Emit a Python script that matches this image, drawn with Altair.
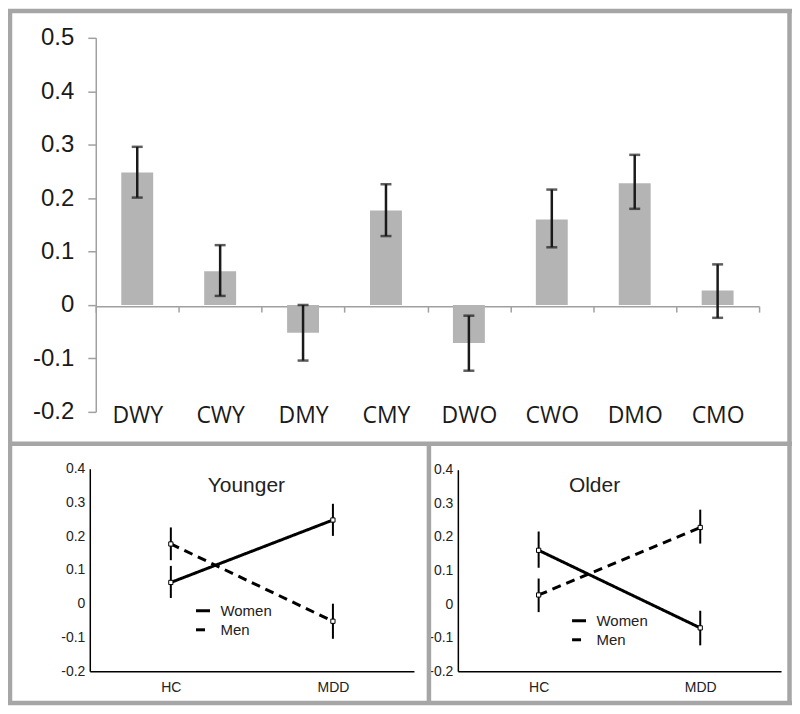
import altair as alt
import pandas as pd

# ---- data ----
groups = ["DWY", "CWY", "DMY", "CMY", "DWO", "CWO", "DMO", "CMO"]
means = [0.248, 0.063, -0.052, 0.177, -0.071, 0.160, 0.228, 0.027]
err_lo = [0.201, 0.017, -0.104, 0.129, -0.123, 0.108, 0.180, -0.024]
err_hi = [0.296, 0.112, 0.000, 0.226, -0.020, 0.216, 0.281, 0.076]

y_ticks_top = [-0.2, -0.1, 0, 0.1, 0.2, 0.3, 0.4, 0.5]
y_ticks_bottom = [-0.2, -0.1, 0, 0.1, 0.2, 0.3, 0.4]
conditions = ["HC", "MDD"]
sexes = ["Women", "Men"]
panel_titles = ["Younger", "Older"]

top_df = pd.DataFrame({"group": groups, "mean": means, "lo": err_lo, "hi": err_hi})

rows = []
for g, m, lo, hi in zip(groups, means, err_lo, err_hi):
    rows.append({
        "cond": "MDD" if g[0] == "D" else "HC",
        "sex": "Women" if g[1] == "W" else "Men",
        "age": "Younger" if g[2] == "Y" else "Older",
        "mean": m, "lo": lo, "hi": hi,
    })
bot_df = pd.DataFrame(rows)

W, H = 786, 698
FRAME = "#a6a6a6"
AXGRAY = "#a0a0a0"
INK = "#1a1a1a"
label_expr = "'' + datum.value"

layers = []

# ---- frames ----
one = pd.DataFrame({"k": [0]})


def hline(y, x1, x2):
    return alt.Chart(one).mark_rule(color=FRAME, strokeWidth=4.5).encode(
        x=alt.value(x1), x2=alt.value(x2), y=alt.value(y))


def vline(x, y1, y2):
    return alt.Chart(one).mark_rule(color=FRAME, strokeWidth=4.5).encode(
        x=alt.value(x), y=alt.value(y1), y2=alt.value(y2))


layers += [hline(2, 0, W), hline(436, 0, W), hline(696, 0, W),
           vline(2, 0, H), vline(783.5, 0, H), vline(422, 436, H)]

# ---- top bar chart ----
xs_top = alt.Scale(type="band", domain=groups, range=[88, 753], paddingInner=0, paddingOuter=0)
ys_top = alt.Scale(domain=[-0.2, 0.5], range=[404, 29], nice=False, zero=False)

x_top = alt.X("group:N", sort=groups, scale=xs_top, axis=alt.Axis(
    orient="bottom", offset=-400, title=None, labelAngle=0, grid=False,
    domainColor=AXGRAY, domainWidth=1.5, tickColor=AXGRAY, tickWidth=1.5, tickSize=6,
    tickBand="extent", labelPadding=93, labelFont="Open Sans", labelFontSize=23,
    labelColor=INK))
y_top = alt.Y("mean:Q", scale=ys_top, axis=alt.Axis(
    orient="left", offset=-88, title=None, values=y_ticks_top, labelExpr=label_expr,
    grid=False, domainColor=AXGRAY, domainWidth=1.5, tickColor=AXGRAY, tickWidth=1.5,
    tickSize=8, labelPadding=14, labelFont="Liberation Sans", labelFontSize=24,
    labelColor=INK))
xn_top = alt.X("group:N", sort=groups, scale=xs_top, axis=None)

layers.append(alt.Chart(top_df).mark_bar(size=32, color="#b4b4b4").encode(x=x_top, y=y_top))
layers.append(alt.Chart(top_df).mark_rule(color=INK, strokeWidth=2.5).encode(
    x=xn_top, y=alt.Y("lo:Q", scale=ys_top, axis=None), y2="hi:Q"))
layers.append(alt.Chart(top_df).mark_tick(color=INK, thickness=2.5, size=11).encode(
    x=xn_top, y=alt.Y("lo:Q", scale=ys_top, axis=None)))
layers.append(alt.Chart(top_df).mark_tick(color=INK, thickness=2.5, size=11).encode(
    x=xn_top, y=alt.Y("hi:Q", scale=ys_top, axis=None)))


# ---- bottom line panels ----
def panel(age, xr, yr, y_off, x_off, leg_x, leg_y, title_x):
    d = bot_df[bot_df.age == age]
    xs = alt.Scale(type="point", domain=conditions, range=xr, padding=0.5)
    ys = alt.Scale(domain=[-0.2, 0.4], range=yr, nice=False, zero=False)
    x = alt.X("cond:N", sort=conditions, scale=xs, axis=alt.Axis(
        orient="bottom", offset=x_off, title=None, labelAngle=0, grid=False,
        domainColor="black", domainWidth=1.5, ticks=False, labelPadding=9,
        labelFont="Liberation Sans", labelFontSize=14, labelColor="#222"))
    y = alt.Y("mean:Q", scale=ys, axis=alt.Axis(
        orient="left", offset=y_off, title=None, values=y_ticks_bottom,
        labelExpr=label_expr, grid=False, domainColor="black", domainWidth=1.5,
        ticks=False, labelPadding=5, labelFont="Liberation Sans", labelFontSize=14,
        labelColor="#222"))
    xn = alt.X("cond:N", sort=conditions, scale=xs, axis=None)
    line = alt.Chart(d).mark_line(color="black", strokeWidth=3).encode(
        x=x, y=y,
        strokeDash=alt.StrokeDash("sex:N", scale=alt.Scale(domain=sexes, range=[[1, 0], [9, 6]]),
                                  legend=alt.Legend(
                                      orient="none", legendX=leg_x, legendY=leg_y, title=None,
                                      symbolType="stroke", symbolStrokeWidth=3, symbolSize=196,
                                      symbolStrokeColor="black", labelFont="Liberation Sans",
                                      labelFontSize=15, labelColor="#222", labelOffset=9,
                                      padding=0, rowPadding=2)))
    err = alt.Chart(d).mark_rule(color="black", strokeWidth=2).encode(
        x=xn, y=alt.Y("lo:Q", scale=ys, axis=None), y2="hi:Q")
    pts = alt.Chart(d).mark_point(shape="square", size=18, filled=True, fill="white",
                                  stroke="black", strokeWidth=1, opacity=1).encode(
        x=xn, y=alt.Y("mean:Q", scale=ys, axis=None))
    title = alt.Chart(pd.DataFrame({"t": [age]})).mark_text(
        font="Liberation Sans", fontSize=21, color="#222", align="center", baseline="middle"
    ).encode(x=alt.value(title_x), y=alt.value(478), text="t:N")
    return [line, err, pts, title]


layers += panel(panel_titles[0], [82, 407], [664, 461], -82, -34, 187, 595, 239)
layers += panel(panel_titles[1], [451, 775], [664, 462], -451, -34, 564, 605, 588)

chart = alt.layer(*layers).resolve_scale(
    x="independent", y="independent", strokeDash="independent"
).resolve_axis(x="independent", y="independent").resolve_legend(
    strokeDash="independent"
).properties(
    width=W, height=H, autosize=alt.AutoSizeParams(type="none"), padding=0
).configure_view(stroke=None)

chart.save("out.html", embed_options={"renderer": "svg", "actions": False})
